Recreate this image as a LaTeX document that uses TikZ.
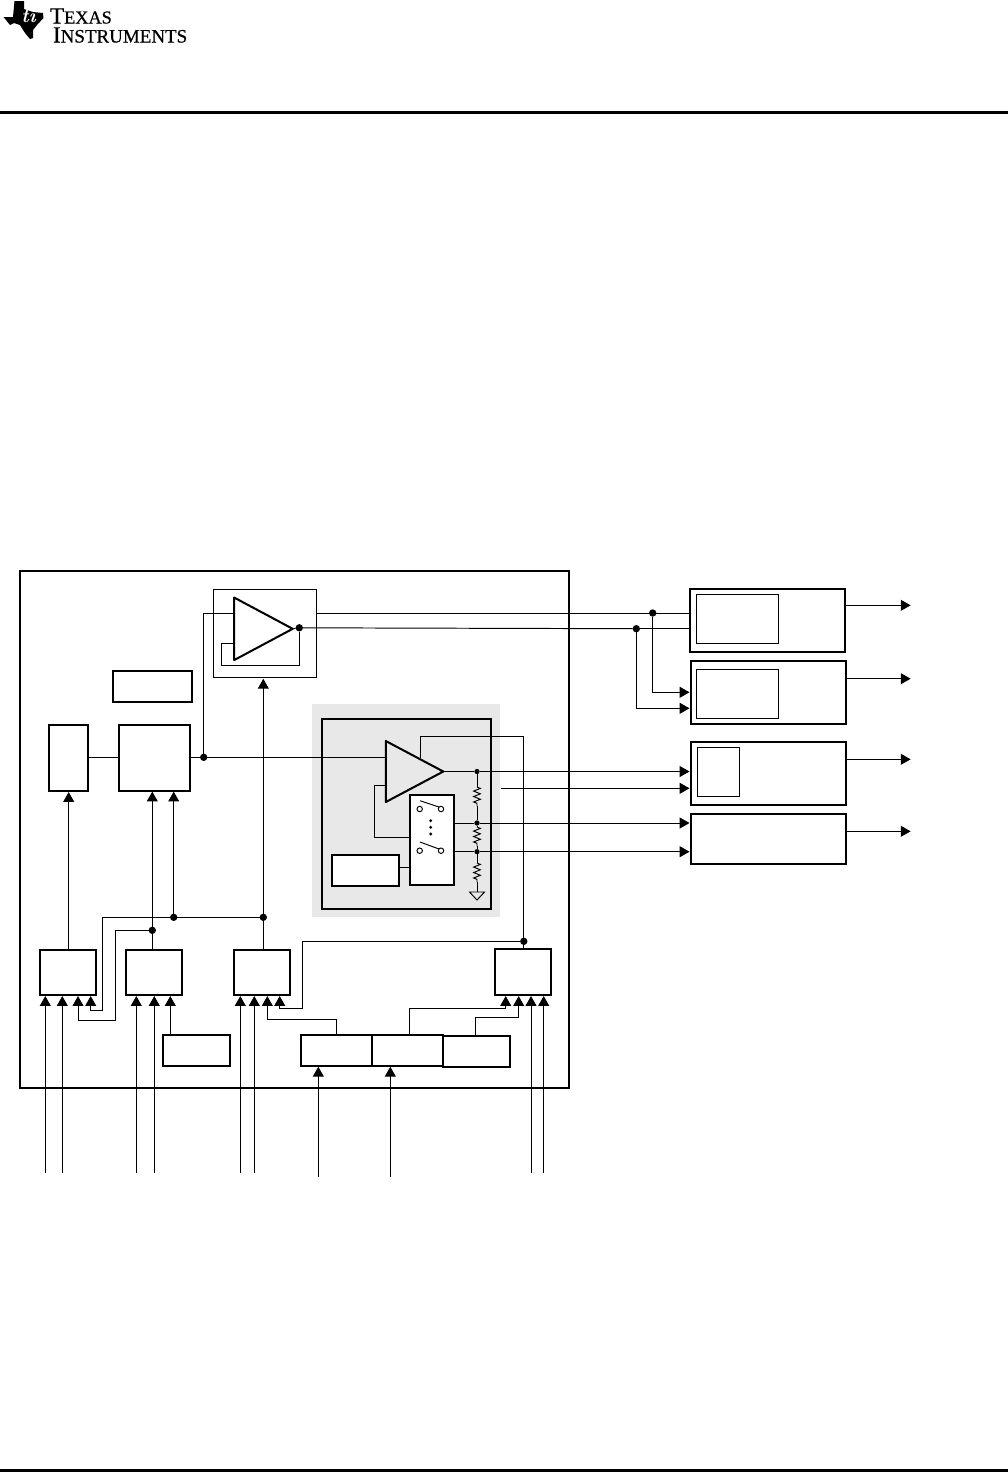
\documentclass[tikz,border=0pt]{standalone}
\usepackage{fontspec}
\newfontfamily\logofont[FakeBold=0.6]{Liberation Serif}
\usetikzlibrary{arrows.meta,shapes.geometric,decorations.pathmorphing}
\begin{document}
\begin{tikzpicture}[x=0.02cm,y=-0.02cm]
		\tikzstyle{every node}+=[inner sep=0pt,outer sep=0pt]
		\tikzstyle{wire}=[black,line width=0.55pt]
		\tikzstyle{arr}=[wire,shorten >=0.6pt,-{Triangle[width=6.2pt,length=5.6pt]}]
		\tikzstyle{blk}=[draw=black,line width=1.15pt,rectangle]
		\tikzstyle{thinblk}=[draw=black,line width=0.7pt,rectangle]
		\tikzstyle{amp}=[draw=black,line width=1.15pt,line join=round,isosceles triangle,isosceles triangle stretches,anchor=apex]
		\tikzstyle{dotnode}=[fill=black,circle,minimum size=4.2pt]
		\tikzstyle{smalldot}=[fill=black,circle,minimum size=3pt]
		\tikzstyle{contact}=[draw=black,line width=0.55pt,fill=white,circle,minimum size=3.1pt]
		\tikzstyle{res}=[wire,decorate,decoration={zigzag,amplitude=1.9pt,segment length=3.1pt}]
		\useasboundingbox (0,0) rectangle (1008,1472);
		\fill [black] (0,111) rectangle (1008,114);
		\fill [black] (0,1469) rectangle (1008,1472);
		\fill [black] (14.5,1) -- (24,1) -- (24,9) -- (33,12) -- (43,13) -- (43.5,18) -- (37,25) -- (33,30) -- (33,38) -- (30,39) -- (25,33) -- (20,25) -- (14,23) -- (10,25) -- (3.5,17) -- (13,17) -- cycle;
		\node [white,font=\bfseries\itshape\fontsize{11}{11}\selectfont] (tilogo) at (28.5,16) {ti};
		\node [anchor=base west,font=\logofont] (texas) at (50,23.5) {\fontsize{13.2}{13}\selectfont T\fontsize{10.4}{13}\selectfont EXAS};
		\node [anchor=base west,font=\logofont] (instr) at (53,42.5) {\fontsize{13.2}{13}\selectfont I\fontsize{10.8}{13}\selectfont NSTRUMENTS};
		\node [blk,minimum width=10.98cm,minimum height=10.34cm] (device) at (294.5,829.5) {};
		\node [fill=black!9,minimum width=3.76cm,minimum height=4.26cm] (grayarea) at (406,810.5) {};
		\node [blk,minimum width=3.38cm,minimum height=3.8cm] (inner) at (406.5,814) {};
		\node [blk,fill=white,minimum width=0.88cm,minimum height=1.8cm] (swbox) at (432,840) {};
		\node [blk,fill=white,minimum width=1.34cm,minimum height=0.62cm] (ctrl) at (365.5,870.5) {};
		\node [thinblk,minimum width=2.07cm,minimum height=1.77cm] (topbox) at (265,633.5) {};
		\node [blk,minimum width=1.59cm,minimum height=0.63cm] (refbox) at (152.5,686.5) {};
		\node [blk,minimum width=1.43cm,minimum height=1.31cm] (dac) at (154.5,757.8) {};
		\node [blk,minimum width=0.78cm,minimum height=1.32cm] (tallbox) at (68.5,758) {};
		\node [blk,minimum width=1.13cm,minimum height=0.9cm] (blka) at (68,972.5) {};
		\node [blk,minimum width=1.12cm,minimum height=0.9cm] (blkb) at (154,972.5) {};
		\node [blk,minimum width=1.13cm,minimum height=0.9cm] (blkc) at (262,972.5) {};
		\node [blk,minimum width=1.12cm,minimum height=0.92cm] (blkd) at (523,972) {};
		\node [blk,minimum width=1.35cm,minimum height=0.62cm] (lowbox) at (196.5,1050.5) {};
		\node [blk,minimum width=1.42cm,minimum height=0.62cm] (ctla) at (336.5,1050.2) {};
		\node [blk,minimum width=1.42cm,minimum height=0.62cm] (ctlb) at (407.5,1050.2) {};
		\node [blk,minimum width=1.35cm,minimum height=0.61cm] (ctlc) at (476.7,1051.3) {};
		\node [blk,minimum width=3.11cm,minimum height=1.25cm] (outa) at (767.3,620.3) {};
		\node [thinblk,minimum width=1.64cm,minimum height=0.98cm] (outai) at (737.3,618.8) {};
		\node [blk,minimum width=3.11cm,minimum height=1.27cm] (outb) at (768.3,692.3) {};
		\node [thinblk,minimum width=1.64cm,minimum height=0.98cm] (outbi) at (737.3,693.8) {};
		\node [blk,minimum width=3.11cm,minimum height=1.26cm] (outc) at (768.3,773.5) {};
		\node [thinblk,minimum width=0.85cm,minimum height=0.98cm] (outci) at (718.5,771.8) {};
		\node [blk,minimum width=3.11cm,minimum height=1cm] (outd) at (768.3,838.7) {};
		\node [amp,minimum height=1.17cm,minimum width=1.25cm] (ampa) at (292.7,628.8) {};
		\node [amp,minimum height=1.15cm,minimum width=1.22cm] (ampb) at (443.3,771.5) {};
		\node [dotnode] (dacdot) at (203.7,757.3) {};
		\node [dotnode] (ampadot) at (299.3,627.8) {};
		\node [dotnode] (senseb) at (152.3,930.3) {};
		\node [dotnode] (sensea) at (173.7,917.3) {};
		\node [dotnode] (sensec) at (263.3,917.3) {};
		\node [dotnode] (sensed) at (523.8,941.3) {};
		\node [dotnode] (outdota) at (652.7,613) {};
		\node [dotnode] (outdotb) at (636.3,628.7) {};
		\node [smalldot] (tapa) at (477,771.5) {};
		\node [smalldot] (tapb) at (477,823) {};
		\node [smalldot] (tapc) at (477,851.7) {};
		\node [contact] (swal) at (419.7,809) {};
		\node [contact] (swar) at (441,809) {};
		\node [contact] (swbl) at (419.7,850.7) {};
		\node [contact] (swbr) at (441,850.7) {};
		\node [fill=black,circle,minimum size=1.8pt] (vdota) at (430.7,820.7) {};
		\node [fill=black,circle,minimum size=1.8pt] (vdotb) at (430.7,827.3) {};
		\node [fill=black,circle,minimum size=1.8pt] (vdotc) at (430.7,834) {};
		\coordinate (pina) at (45.3,1173);
		\coordinate (pinb) at (62.3,1173);
		\coordinate (pinc) at (136.3,1173);
		\coordinate (pind) at (154.3,1173);
		\coordinate (pine) at (240.3,1173);
		\coordinate (pinf) at (254.3,1173);
		\coordinate (ping) at (318.3,1177);
		\coordinate (pinh) at (390.3,1177);
		\coordinate (pini) at (531,1173);
		\coordinate (pinj) at (543.7,1173);
		\coordinate (vout) at (501,788.3);
		\coordinate (gnd) at (477,892);
		\coordinate (outtipa) at (911.7,605.3);
		\coordinate (outtipb) at (911.7,678.7);
		\coordinate (outtipc) at (911.7,759.3);
		\coordinate (outtipd) at (911.7,831.3);
		\draw [arr] (pina) -- (pina |- blka.south);
		\draw [arr] (pinb) -- (pinb |- blka.south);
		\draw [arr] (pinc) -- (pinc |- blkb.south);
		\draw [arr] (pind) -- (pind |- blkb.south);
		\draw [arr] (pine) -- (pine |- blkc.south);
		\draw [arr] (pinf) -- (pinf |- blkc.south);
		\draw [arr] (ping) -- (ping |- ctla.south);
		\draw [arr] (pinh) -- (pinh |- ctlb.south);
		\draw [arr] (pini) -- (pini |- blkd.south);
		\draw [arr] (pinj) -- (pinj |- blkd.south);
		\draw [arr] (lowbox.north -| 170.3,0) -- (170.3,0 |- blkb.south);
		\draw [arr] (sensea) -| (102,1010) -| (90.7,0 |- blka.south);
		\draw [arr] (senseb) -| (115,1020.3) -| (78,0 |- blka.south);
		\draw [wire] (sensea) -- (sensec);
		\draw [wire] (blkb.north -| senseb) -- (senseb);
		\draw [arr] (senseb) -- (senseb |- dac.south);
		\draw [arr] (sensea) -- (sensea |- dac.south);
		\draw [wire] (blkc.north -| sensec) -- (sensec);
		\draw [arr] (sensec) -- (sensec |- topbox.south);
		\draw [arr] (blka.north -| 68.7,0) -- (68.7,0 |- tallbox.south);
		\draw [wire] (tallbox.east |- 0,757.3) -- (dac.west |- 0,757.3);
		\draw [wire] (dac.east |- dacdot) -- (dacdot);
		\draw [wire] (dacdot) -- (ampb.lower side |- dacdot);
		\draw [wire] (dacdot) |- (ampa.lower side |- 0,613.7);
		\draw [wire] (ampa.lower side |- 0,643.3) -| (221,665.3) -| (ampadot);
		\draw [wire] (ampa.apex) -- (ampadot);
		\draw [wire] (ampadot) -- (outdotb);
		\draw [wire] (outdotb) -- (outa.west |- outdotb);
		\draw [wire] (topbox.east |- outdota) -- (outdota);
		\draw [wire] (outdota) -- (outa.west |- outdota);
		\draw [arr] (outdota) |- (outb.west |- 0,692.3);
		\draw [arr] (outdotb) |- (outb.west |- 0,708.3);
		\draw [wire] (420,758) |- (sensed |- 0,736) -- (sensed);
		\draw [wire] (sensed) -- (sensed |- blkd.north);
		\draw [wire] (ampb.lower side |- 0,785) -| (374,837) -- (swbox.west |- 0,837);
		\draw [wire] (ctrl.east |- 0,867) -- (swbox.west |- 0,867);
		\draw [wire] (ampb.apex) -- (tapa);
		\draw [arr] (tapa) -- (outc.west |- tapa);
		\draw [arr] (vout) -- (outc.west |- vout);
		\draw [wire] (swbox.east |- tapb) -- (tapb);
		\draw [arr] (tapb) -- (outd.west |- tapb);
		\draw [wire] (swbox.east |- tapc) -- (tapc);
		\draw [arr] (tapc) -- (outd.west |- tapc);
		\draw [wire] (tapa) -- (477,787);
		\draw [res] (477,787) -- (477,806);
		\draw [wire] (477,806) -- (tapb) -- (477,827);
		\draw [res] (477,827) -- (477,846);
		\draw [wire] (477,846) -- (tapc) -- (477,863);
		\draw [res] (477,863) -- (477,882);
		\draw [wire] (477,882) -- (gnd);
		\draw [wire] (469.5,892) -- (484.5,892) -- (477,900) -- cycle;
		\draw [wire] (420,800.7) -- (439,807);
		\draw [wire] (420,842) -- (439,849);
		\draw [arr] (ctla.north) |- (267.3,1019) -- (267.3,0 |- blkc.south);
		\draw [arr] (sensed) -| (302,1008.7) -| (279.7,0 |- blkc.south);
		\draw [arr] (ctlb.north -| 409,0) |- (505.7,1008) -- (505.7,0 |- blkd.south);
		\draw [arr] (ctlc.north -| 475,0) |- (518.7,1017.3) -- (518.7,0 |- blkd.south);
		\draw [arr] (outa.east |- outtipa) -- (outtipa);
		\draw [arr] (outb.east |- outtipb) -- (outtipb);
		\draw [arr] (outc.east |- outtipc) -- (outtipc);
		\draw [arr] (outd.east |- outtipd) -- (outtipd);
		\end{tikzpicture}
\end{document}
